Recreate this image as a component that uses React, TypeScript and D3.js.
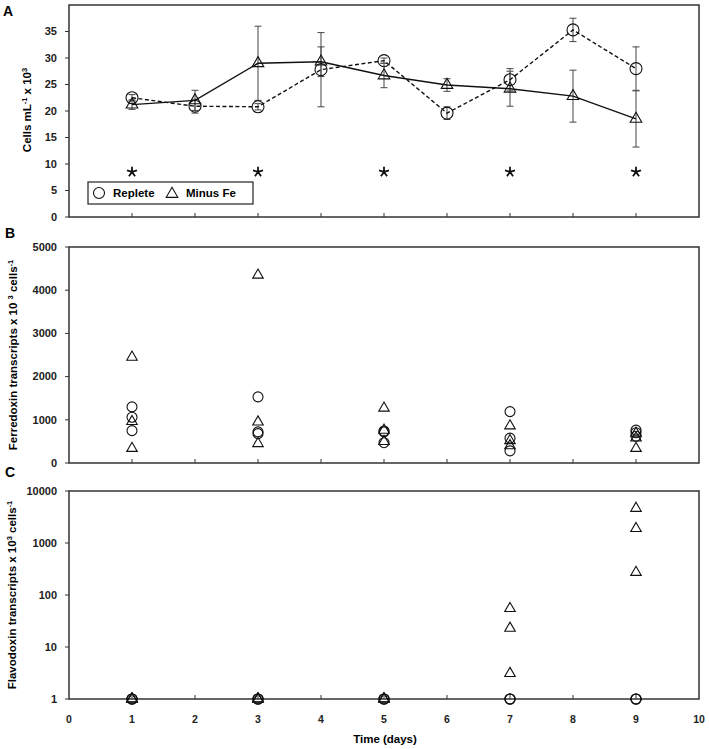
import { scaleLinear, scaleLog, line, symbol, symbolTriangle } from "d3";

// ---------- DATA ----------
const DAYS = [1, 2, 3, 4, 5, 6, 7, 8, 9];
const REPLETE_MEAN = [22.5, 20.9, 20.8, 27.8, 29.5, 19.6, 25.9, 35.3, 28.0];
const REPLETE_SD = [0.6, 1.3, 0.6, 7.0, 0.5, 1.2, 2.1, 2.2, 4.1];
const MINUS_FE_MEAN = [21.2, 22.0, 29.0, 29.3, 26.7, 24.9, 24.2, 22.8, 18.5];
const MINUS_FE_SD = [0.9, 1.9, 7.0, 2.8, 2.3, 1.2, 3.3, 4.9, 5.3];
const STAR_DAYS = [1, 3, 5, 7, 9];
const STAR_LEVEL = 8.5;

const SAMPLE_DAYS = [1, 3, 5, 7, 9];
const FERREDOXIN_REPLETE = [
  [1300, 1060, 750],
  [1530, 720, 680],
  [740, 720, 470],
  [1190, 575, 280],
  [760, 700, 620],
];
const FERREDOXIN_MINUS_FE = [
  [2450, 960, 340],
  [4350, 950, 450],
  [1270, 760, 500],
  [860, 520, 400],
  [690, 580, 340],
];
const FLAVODOXIN_REPLETE = [
  [1, 1, 1],
  [1, 1, 1],
  [1, 1, 1],
  [1, 1, 1],
  [1, 1, 1],
];
const FLAVODOXIN_MINUS_FE = [
  [1, 1, 1],
  [1, 1, 1],
  [1, 1, 1],
  [55, 23, 3.1],
  [4650, 1900, 273],
];

const X_TICKS = [0, 1, 2, 3, 4, 5, 6, 7, 8, 9, 10];
const X_MINOR = [1, 2, 3, 4, 5, 6, 7, 8, 9];
const CELL_TICKS = [0, 5, 10, 15, 20, 25, 30, 35];
const FERREDOXIN_TICKS = [0, 1000, 2000, 3000, 4000, 5000];
const FLAVODOXIN_TICKS = [1, 10, 100, 1000, 10000];

// ---------- LAYOUT ----------
const WIDTH = 709;
const HEIGHT = 749;
const FONT = "'Liberation Sans', Arial, sans-serif";
const AXIS = "#333";
const ERR = "#555";

const xScale = scaleLinear().domain([0, 10]).range([69, 699]);
const yA = scaleLinear().domain([0, 40]).range([217, 5]);
const yB = scaleLinear().domain([0, 5000]).range([463, 247]);
const yC = scaleLog().domain([1, 10000]).range([699, 491]);

const triA = symbol().type(symbolTriangle).size(58)() ?? "";
const triB = symbol().type(symbolTriangle).size(48)() ?? "";

// five-armed asterisk like the Arial "*"
const symbolStar5 = {
  draw(context: any, size: number) {
    const r = Math.sqrt(size) / 2;
    for (let k = 0; k < 5; k++) {
      const a = -Math.PI / 2 + (k * 2 * Math.PI) / 5;
      context.moveTo(0, 0);
      context.lineTo(r * Math.cos(a), r * Math.sin(a));
    }
  },
};
const starPath = symbol().type(symbolStar5 as any).size(110)() ?? "";

type Scale = (v: number) => number;

function Frame({ y, ticks }: { y: Scale & { range: () => number[] }; ticks: number[] }) {
  const [bottom, top] = y.range();
  const [left, right] = xScale.range();
  return (
    <g>
      <rect x={left} y={top} width={right - left} height={bottom - top} fill="none" stroke={AXIS} strokeWidth={1.5} />
      {X_MINOR.map(d => (
        <line key={d} x1={xScale(d)} x2={xScale(d)} y1={bottom} y2={bottom - 4} stroke={AXIS} />
      ))}
      {ticks.map(t => (
        <g key={t} transform={`translate(0,${y(t)})`}>
          <line x1={left - 4} x2={left} stroke={AXIS} />
          <text x={57} dy="0.35em" textAnchor="end" fontSize={11} fontWeight="bold" fill="#222">
            {t}
          </text>
        </g>
      ))}
    </g>
  );
}

function Scatter({ y, replete, minusFe }: { y: Scale; replete: number[][]; minusFe: number[][] }) {
  return (
    <g fill="none" stroke="#111" strokeWidth={1.1}>
      {SAMPLE_DAYS.map((d, i) =>
        minusFe[i].map((v, j) => (
          <path key={`t${i}-${j}`} d={triB} transform={`translate(${xScale(d)},${y(v)})`} />
        ))
      )}
      {SAMPLE_DAYS.map((d, i) =>
        replete[i].map((v, j) => <circle key={`c${i}-${j}`} cx={xScale(d)} cy={y(v)} r={5} />)
      )}
    </g>
  );
}

function ErrorBars({ mean, sd }: { mean: number[]; sd: number[] }) {
  return (
    <g stroke={ERR} strokeWidth={1.1}>
      {DAYS.map((d, i) => {
        const x = xScale(d);
        const lo = yA(mean[i] - sd[i]);
        const hi = yA(mean[i] + sd[i]);
        return (
          <g key={d}>
            <line x1={x} x2={x} y1={lo} y2={hi} />
            <line x1={x - 3.5} x2={x + 3.5} y1={lo} y2={lo} />
            <line x1={x - 3.5} x2={x + 3.5} y1={hi} y2={hi} />
          </g>
        );
      })}
    </g>
  );
}

export default function App() {
  const growthLine = line<number>()
    .x((_, i) => xScale(DAYS[i]))
    .y(v => yA(v));

  return (
    <svg
      width={WIDTH}
      height={HEIGHT}
      style={{ position: "absolute", left: 0, top: 0, background: "white" }}
      fontFamily={FONT}
    >
      {/* PANEL A */}
      <text x={3} y={16} fontSize={14} fontWeight="bold">A</text>
      <Frame y={yA} ticks={CELL_TICKS} />
      <ErrorBars mean={REPLETE_MEAN} sd={REPLETE_SD} />
      <ErrorBars mean={MINUS_FE_MEAN} sd={MINUS_FE_SD} />
      <path d={growthLine(MINUS_FE_MEAN) ?? ""} fill="none" stroke="#111" strokeWidth={1.4} />
      <path d={growthLine(REPLETE_MEAN) ?? ""} fill="none" stroke="#111" strokeWidth={1.4} strokeDasharray="4,2.5" />
      <g fill="none" stroke="#111" strokeWidth={1.1}>
        {DAYS.map((d, i) => (
          <circle key={`c${d}`} cx={xScale(d)} cy={yA(REPLETE_MEAN[i])} r={6} />
        ))}
        {DAYS.map((d, i) => (
          <path key={`t${d}`} d={triA} transform={`translate(${xScale(d)},${yA(MINUS_FE_MEAN[i])})`} />
        ))}
      </g>
      <g stroke="#111" strokeWidth={1.8} strokeLinecap="butt" fill="none">
        {STAR_DAYS.map(d => (
          <path key={d} d={starPath} transform={`translate(${xScale(d)},${yA(STAR_LEVEL)})`} />
        ))}
      </g>
      <g>
        <rect x={88} y={182} width={165} height={22} fill="white" stroke="#222" strokeWidth={1.2} />
        <circle cx={99} cy={193} r={5.5} fill="none" stroke="#111" strokeWidth={1.1} />
        <text x={113} y={197} fontSize={11.5} fontWeight="bold">Replete</text>
        <path d={triA} transform="translate(172,194)" fill="none" stroke="#111" strokeWidth={1.1} />
        <text x={186} y={197} fontSize={11.5} fontWeight="bold">Minus Fe</text>
      </g>
      <text transform="translate(31,110) rotate(-90)" textAnchor="middle" fontSize={11.5} fontWeight="bold">
        Cells mL<tspan dy={-4} fontSize={7.5}>-1</tspan>
        <tspan dy={4}> x 10</tspan>
        <tspan dy={-4} fontSize={7.5}>3</tspan>
      </text>

      {/* PANEL B */}
      <text x={5} y={238} fontSize={14} fontWeight="bold">B</text>
      <Frame y={yB} ticks={FERREDOXIN_TICKS} />
      <Scatter y={yB} replete={FERREDOXIN_REPLETE} minusFe={FERREDOXIN_MINUS_FE} />
      <text transform="translate(17,355) rotate(-90)" textAnchor="middle" fontSize={11.5} fontWeight="bold">
        Ferredoxin transcripts x 10 <tspan dy={-4} fontSize={7.5}>3</tspan>
        <tspan dy={4}>  cells</tspan>
        <tspan dy={-4} fontSize={7.5}>-1</tspan>
      </text>

      {/* PANEL C */}
      <text x={5} y={477} fontSize={14} fontWeight="bold">C</text>
      <Frame y={yC} ticks={FLAVODOXIN_TICKS} />
      <Scatter y={yC} replete={FLAVODOXIN_REPLETE} minusFe={FLAVODOXIN_MINUS_FE} />
      <text transform="translate(16,595) rotate(-90)" textAnchor="middle" fontSize={11.5} fontWeight="bold">
        Flavodoxin transcripts x 10<tspan dy={-4} fontSize={7.5}>3</tspan>
        <tspan dy={4}>  cells</tspan>
        <tspan dy={-4} fontSize={7.5}>-1</tspan>
      </text>

      {X_TICKS.map(t => (
        <text key={t} x={xScale(t)} y={723} textAnchor="middle" fontSize={10.5} fontWeight="bold" fill="#222">
          {t}
        </text>
      ))}
      <text x={385} y={743} textAnchor="middle" fontSize={11.5} fontWeight="bold">Time (days)</text>
    </svg>
  );
}
